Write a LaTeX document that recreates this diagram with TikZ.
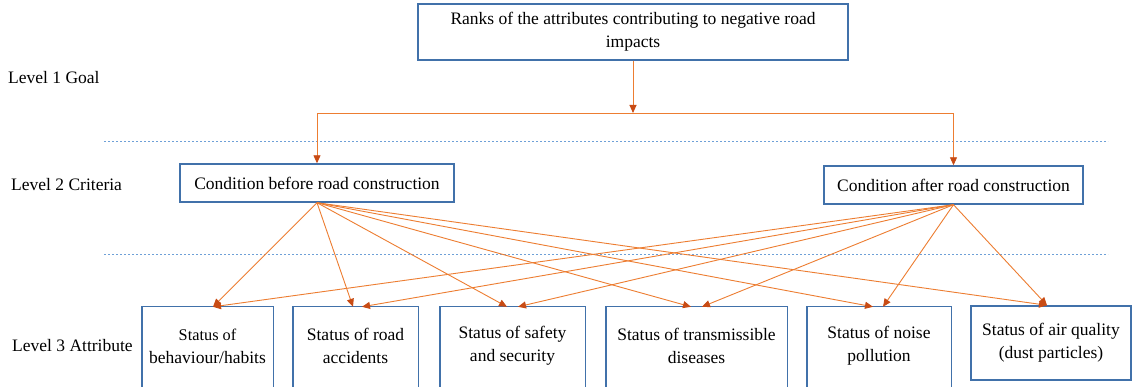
\documentclass[tikz,border=0pt]{standalone}
\usepackage{fontspec}
\setmainfont{Liberation Serif}
\usetikzlibrary{arrows.meta,calc}
\definecolor{boxblue}{RGB}{65,113,170}
\definecolor{lineorange}{RGB}{237,125,49}
\definecolor{tiporange}{RGB}{200,75,20}
\definecolor{dotblue}{RGB}{110,160,215}
\tikzset{
  txt/.style={font=\fontsize{17.5}{23}\selectfont, align=center, inner sep=0pt},
  boxnode/.style={txt, draw=boxblue, line width=1.4pt, fill=white},
  attrtext/.style={txt, minimum height=78},
  boxline/.style={draw=boxblue, line width=1.4pt},
  conn/.style={draw=lineorange, line width=0.9pt},
  arr/.style={conn, -{Triangle[length=8pt, width=7pt, color=tiporange, fill=tiporange]}},
  levelsep/.style={draw=dotblue, line width=0.8pt, dash pattern=on 2pt off 2pt},
  lvl/.style={font=\fontsize{17.5}{23}\selectfont, anchor=west, inner sep=0pt}
}
\begin{document}
\begin{tikzpicture}[x=1pt,y=-1pt]
\useasboundingbox (0,0) rectangle (1133,387);
\clip (0,0) rectangle (1133,387);
\fill[white] (0,0) rectangle (1133,387);

% level separators
\draw[levelsep] (104,141) -- (1108,141);
\draw[levelsep] (104,254) -- (1108,254);

% level labels
\node[lvl] (l1) at (8,78) {Level 1 Goal};
\node[lvl] (l2) at (11,185) {Level 2 Criteria};
\node[lvl] (l3) at (12,346) {Level 3 Attribute};

% goal
\node[boxnode, minimum width=430, minimum height=56] (goal) at (633,32)
  {Ranks of the attributes contributing to negative road\\impacts};
\coordinate (j) at (633,113);

% criteria
\node[boxnode, minimum width=274, minimum height=38] (before) at (317,183)
  {Condition before road construction};
\node[boxnode, minimum width=259, minimum height=38] (after) at (953.5,185)
  {Condition after road construction};

% attributes (boxes 1-5 run past the lower edge)
\node[attrtext, minimum width=131] (a1) at (207.5,346) {\fontsize{16.3}{23}\selectfont Status of\\behaviour/habits};
\node[attrtext, minimum width=125] (a2) at (355.5,346) {Status of road\\accidents};
\node[attrtext, minimum width=145] (a3) at (512.5,346) {Status of safety\\and security};
\node[attrtext, minimum width=181] (a4) at (696.5,346) {Status of transmissible\\diseases};
\node[attrtext, minimum width=144] (a5) at (879,346) {Status of noise\\pollution};
\node[boxnode, minimum width=160, minimum height=74] (a6) at (1051,343) {Status of air quality\\(dust particles)};
\foreach \n in {a1,a2,a3,a4,a5}{
  \draw[boxline] ([yshift=-20pt]\n.south west) |- (\n.north east) -- ([yshift=-20pt]\n.south east);
}

% goal to criteria
\draw[arr] (goal.south) -- (j);
\draw[arr] (j) -| (before.north);
\draw[arr] (j) -| (after.north);

% criteria to attributes
\draw[arr] (before.south) -- ([xshift=5.5pt]a1.north);
\draw[arr] (before.south) -- ([xshift=-2.5pt]a2.north);
\draw[arr] (before.south) -- ([xshift=-5.5pt]a3.north);
\draw[arr] (before.south) -- ([xshift=-5.5pt]a4.north);
\draw[arr] (before.south) -- ([xshift=-6pt]a5.north);
\draw[arr] (before.south) -- ([xshift=-4pt]a6.north);

\draw[arr] (after.south) -- ([xshift=5.5pt]a1.north);
\draw[arr] (after.south) -- ([xshift=6.5pt]a2.north);
\draw[arr] (after.south) -- ([xshift=5.5pt]a3.north);
\draw[arr] (after.south) -- ([xshift=5.5pt]a4.north);
\draw[arr] (after.south) -- ([xshift=4pt]a5.north);
\draw[arr] (after.south) -- ([xshift=-4pt]a6.north);
\end{tikzpicture}
\end{document}
